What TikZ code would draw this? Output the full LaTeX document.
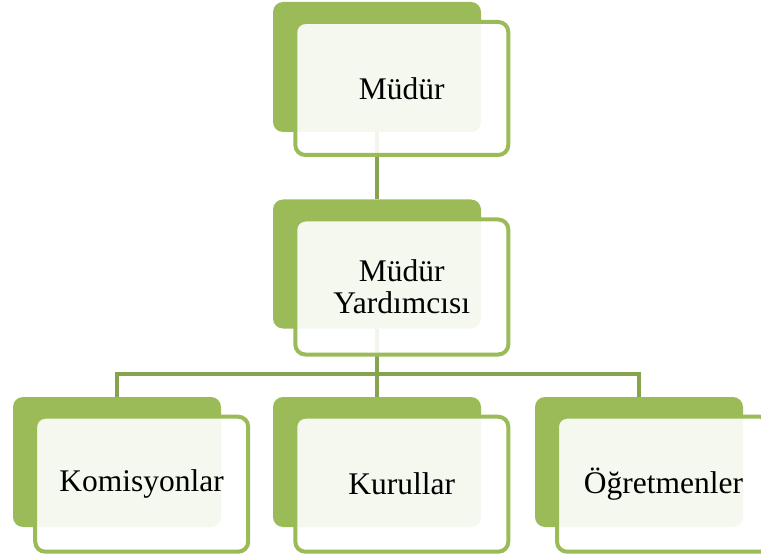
\documentclass[tikz,border=0pt]{standalone}
\usepackage{fontspec}
\setmainfont{Liberation Serif}
\definecolor{accent}{HTML}{9BBB59}
\definecolor{conn}{HTML}{87A34D}
\tikzset{
  backbox/.style={rectangle, fill=accent, draw=none, rounded corners=10pt,
    minimum width=208pt, minimum height=130pt, inner sep=0pt, outer sep=0pt},
  frontbox/.style={rectangle, fill=white, fill opacity=0.9, text opacity=1,
    draw=accent, draw opacity=1, line width=4pt, rounded corners=10pt,
    minimum width=213pt, minimum height=135pt, inner sep=0pt, align=center,
    font=\fontsize{31.5}{32}\selectfont},
  connector/.style={draw=conn, line width=4.5pt},
}
\begin{document}
\begin{tikzpicture}[x=1pt,y=-1pt]
\clip (0,0) rectangle (761,559);
\useasboundingbox (0,0) rectangle (761,559);
% back boxes
\node[backbox] (b1) at (377,67) {};
\node[backbox, minimum height=129pt] (b2) at (377,264) {};
\node[backbox] (b3) at (117,462) {};
\node[backbox] (b4) at (377,462) {};
\node[backbox] (b5) at (639,462) {};
% connectors
\coordinate (hub) at (377,374);
\draw[connector] (b1.south) -- (b2.north);
\draw[connector] (b2.south) -- (b4.north);
\draw[connector] (b3.north) |- (hub) -| (b5.north);
% front boxes
\node[frontbox, minimum height=133pt] (f1) at (401.8,88.5) {Müdür};
\node[frontbox] (f2) at (401.8,287) {Müdür\\Yardımcısı};
\node[frontbox] (f3) at (141.7,484.2) {Komisyonlar};
\node[frontbox] (f4) at (401.8,484.2) {Kurullar};
\node[frontbox] (f5) at (663.5,484.2) {Öğretmenler};
\end{tikzpicture}
\end{document}
